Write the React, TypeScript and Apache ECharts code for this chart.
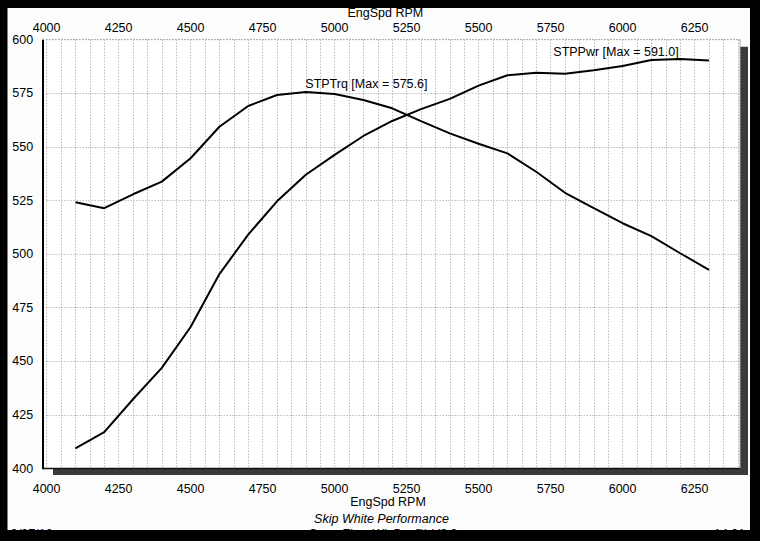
import React, { useEffect, useRef } from 'react';
import * as echarts from 'echarts';

const rpm = [4100, 4200, 4300, 4400, 4500, 4600, 4700, 4800, 4900, 5000, 5100, 5200, 5300, 5400, 5500, 5600, 5700, 5800, 5900, 6000, 6100, 6200, 6300];
const torque = [524.2, 521.4, 527.9, 533.8, 544.7, 559.4, 569.1, 574.2, 575.6, 574.7, 571.9, 568.0, 562.0, 556.3, 551.5, 547.0, 538.4, 528.6, 521.4, 514.4, 508.4, 500.4, 492.6];
const power = [409.4, 417.0, 432.3, 446.9, 466.0, 490.7, 509.1, 524.6, 537.0, 546.3, 555.1, 562.1, 567.6, 572.4, 578.6, 583.4, 584.6, 584.1, 585.8, 587.7, 590.5, 591.0, 590.3];
const xTickLabels = [4000, 4250, 4500, 4750, 5000, 5250, 5500, 5750, 6000, 6250];
const xTitle = 'EngSpd RPM';
const torqueName = 'STPTrq';
const powerName = 'STPPwr';
const footer = ['Skip White Performance', 'SuperFlow WinDyn™ V3.2'];
const dateText = '9/27/16';
const timeText = '14:21:34';

const FONT = '"Liberation Sans", Arial, Helvetica, sans-serif';

function argMax(a: number[]) {
  let k = 0;
  for (let i = 1; i < a.length; i++) if (a[i] > a[k]) k = i;
  return k;
}

export default function App() {
  const ref = useRef<HTMLDivElement>(null);
  useEffect(() => {
    document.body.style.margin = '0';
    const chart = echarts.init(ref.current!, null, { renderer: 'svg' });
    const ti = argMax(torque);
    const pi = argMax(power);
    const fmt = (v: number) => (xTickLabels.indexOf(v) >= 0 ? String(v) : '');
    const plotL = 43, plotR = 740, plotT = 39.7, plotB = 468.5;
    const option: any = {
      animation: false,
      backgroundColor: '#000',
      textStyle: { fontFamily: FONT },
      grid: { left: 46.6, right: 760 - 737.8, top: plotT, bottom: 541 - plotB },
      xAxis: [
        {
          type: 'value', position: 'bottom', min: 4000, max: 6400, interval: 50,
          axisLine: { show: false }, axisTick: { show: false },
          axisLabel: { formatter: fmt, margin: 14, color: '#000', fontSize: 12.5, fontFamily: FONT },
          splitLine: { show: true, lineStyle: { color: '#9a9a9a', type: [1, 2], width: 1 } },
        },
        {
          type: 'value', position: 'top', min: 4000, max: 6400, interval: 50,
          axisLine: { show: false }, axisTick: { show: false },
          axisLabel: { formatter: fmt, margin: 5, color: '#000', fontSize: 12.5, fontFamily: FONT },
          splitLine: { show: false },
        },
      ],
      yAxis: {
        type: 'value', min: 400, max: 600, interval: 25,
        axisLine: { show: false }, axisTick: { show: false },
        axisLabel: { margin: 13.5, color: '#000', fontSize: 12.5, fontFamily: FONT },
        splitLine: { show: true, lineStyle: { color: '#9a9a9a', type: [1, 2], width: 1 } },
      },
      series: [
        {
          name: torqueName, type: 'line', xAxisIndex: 0,
          data: rpm.map((r, i) => [r, torque[i]]),
          symbol: 'none', lineStyle: { color: '#000', width: 2 }, z: 5, silent: true,
          markPoint: {
            symbol: 'circle', symbolSize: 1, itemStyle: { color: 'rgba(0,0,0,0)' }, silent: true,
            data: [{ coord: [rpm[ti], torque[ti]] }],
            label: {
              show: true, position: [0, 0], align: 'left', verticalAlign: 'bottom',
              formatter: `${torqueName} [Max = ${torque[ti].toFixed(1)}]`,
              color: '#000', fontSize: 12.5, fontFamily: FONT, offset: [0, -1],
            },
          },
        },
        {
          name: powerName, type: 'line', xAxisIndex: 0,
          data: rpm.map((r, i) => [r, power[i]]),
          symbol: 'none', lineStyle: { color: '#000', width: 2 }, z: 5, silent: true,
          markPoint: {
            symbol: 'circle', symbolSize: 1, itemStyle: { color: 'rgba(0,0,0,0)' }, silent: true,
            data: [{ coord: [rpm[pi], power[pi]] }],
            label: {
              show: true, position: [0, 0], align: 'right', verticalAlign: 'bottom',
              formatter: `${powerName} [Max = ${power[pi].toFixed(1)}]`,
              color: '#000', fontSize: 12.5, fontFamily: FONT, offset: [-1, 0],
            },
          },
        },
      ],
      graphic: [
        { type: 'rect', z: -20, silent: true, shape: { x: 7.5, y: 8, width: 742.5, height: 522 }, style: { fill: '#fdfdfd' } },
        { type: 'rect', z: -15, silent: true, shape: { x: 53, y: 46.7, width: 695, height: 428.3 }, style: { fill: '#3a3a3a' } },
        { type: 'rect', z: -10, silent: true, shape: { x: plotL, y: plotT, width: plotR - plotL, height: plotB - plotT }, style: { fill: '#fff' } },
        { type: 'line', z: 4, silent: true, shape: { x1: plotL, y1: plotT, x2: plotR, y2: plotT }, style: { stroke: '#9a9a9a', lineWidth: 1, lineDash: [1, 2] } },
        { type: 'line', z: 4, silent: true, shape: { x1: plotR, y1: plotT, x2: plotR, y2: plotB }, style: { stroke: '#aaa', lineWidth: 1 } },
        { type: 'line', z: 6, silent: true, shape: { x1: plotL, y1: plotB, x2: plotR, y2: plotB }, style: { stroke: '#111', lineWidth: 1.5 } },
        { type: 'line', z: 6, silent: true, shape: { x1: plotL, y1: plotT, x2: plotL, y2: plotB + 0.75 }, style: { stroke: '#000', lineWidth: 2 } },
        { type: 'text', z: 10, silent: true, x: 385.3, y: 13, style: { text: xTitle, fill: '#000', font: `12.5px ${FONT}`, align: 'center', verticalAlign: 'middle' } },
        { type: 'text', z: 10, silent: true, x: 388, y: 502, style: { text: xTitle, fill: '#000', font: `12.5px ${FONT}`, align: 'center', verticalAlign: 'middle' } },
        { type: 'text', z: 10, silent: true, x: 381.5, y: 518.5, style: { text: footer[0], fill: '#000', font: `italic 12.5px ${FONT}`, align: 'center', verticalAlign: 'middle' } },
        { type: 'text', z: 10, silent: true, x: 382.5, y: 534, style: { text: footer[1], fill: '#000', font: `italic 12.5px ${FONT}`, align: 'center', verticalAlign: 'middle' } },
        { type: 'text', z: 10, silent: true, x: 10, y: 534, style: { text: dateText, fill: '#000', font: `italic 12.5px ${FONT}`, align: 'left', verticalAlign: 'middle' } },
        { type: 'text', z: 10, silent: true, x: 713, y: 534, style: { text: timeText, fill: '#000', font: `italic 12.5px ${FONT}`, align: 'left', verticalAlign: 'middle' } },
        { type: 'rect', z: 100, silent: true, shape: { x: 0, y: 530, width: 760, height: 11 }, style: { fill: '#000' } },
        { type: 'rect', z: 100, silent: true, shape: { x: 750, y: 0, width: 10, height: 541 }, style: { fill: '#000' } },
      ],
    };
    chart.setOption(option);
    return () => chart.dispose();
  }, []);
  return <div ref={ref} style={{ width: 760, height: 541 }} />;
}
